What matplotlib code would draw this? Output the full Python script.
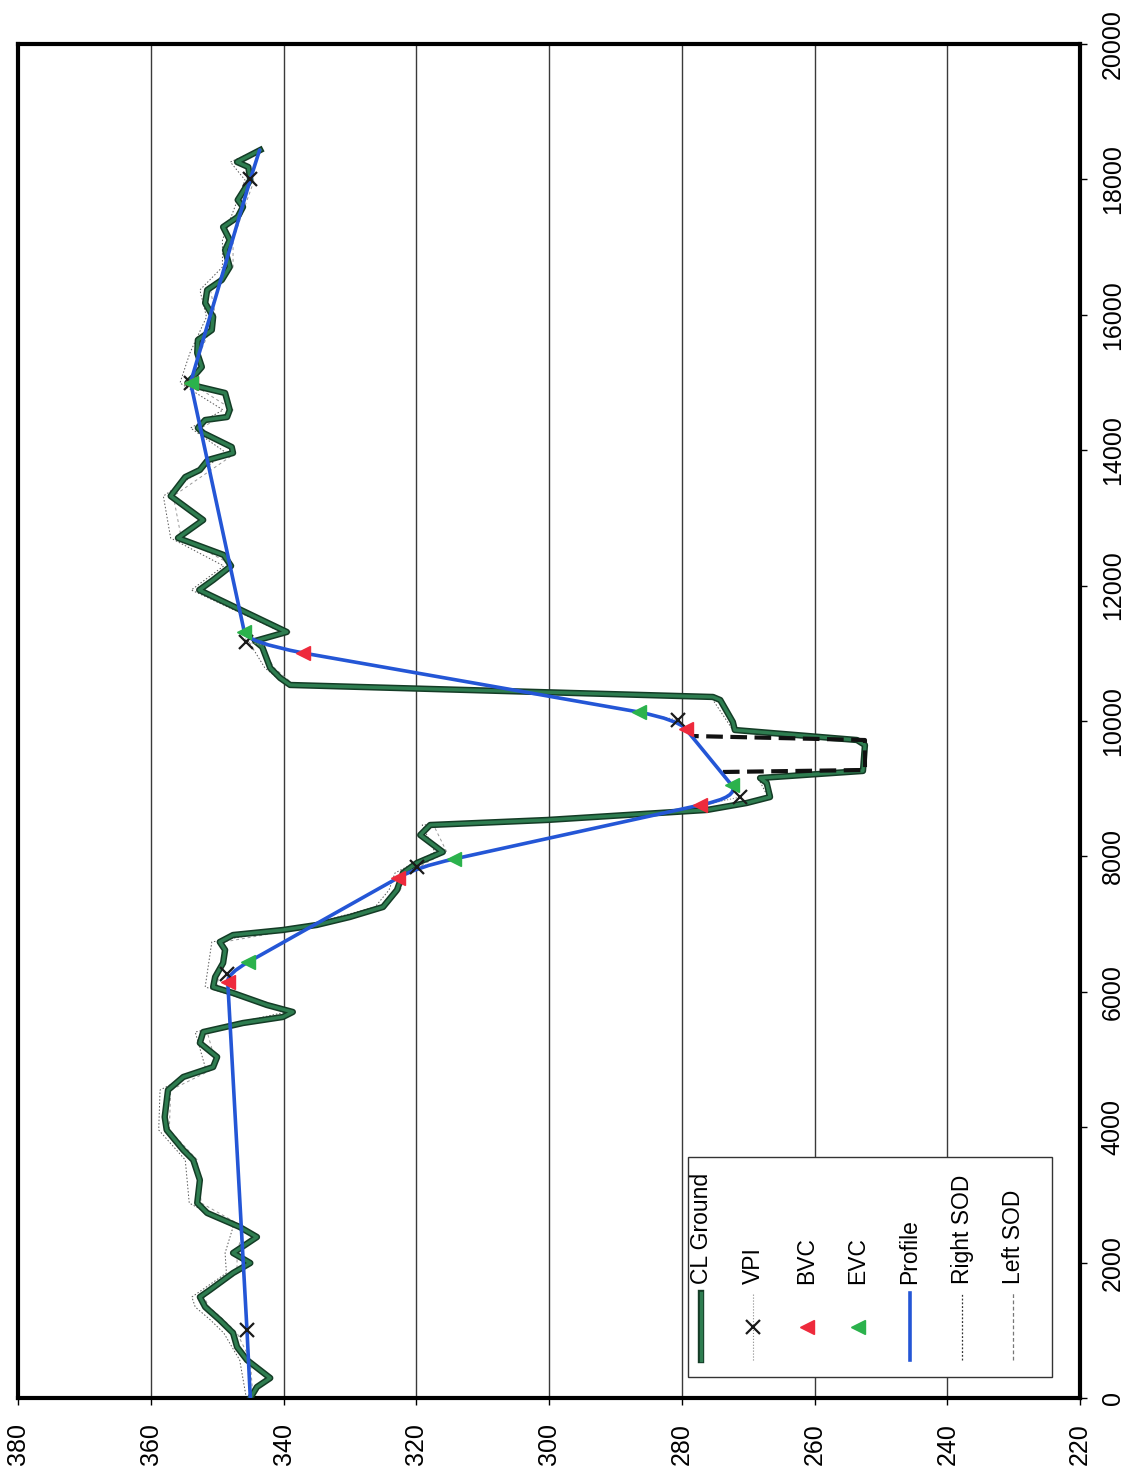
import numpy as np
import matplotlib
matplotlib.use('Agg')
import matplotlib.pyplot as plt
import matplotlib.patheffects as pe
from matplotlib.path import Path
from matplotlib.patches import PathPatch, Rectangle
from matplotlib.lines import Line2D

plt.rcParams['font.family'] = ['Liberation Sans', 'DejaVu Sans']

# ---- centre line ground (station, elevation)
ground_sta = [0, 163, 295, 561, 753, 960, 1152, 1344, 1492, 1595, 1846, 1994, 2142, 2378, 2526,
              2733, 2880, 3220, 3516, 3663, 3959, 4151, 4549, 4742, 4889, 5037, 5244, 5406, 5539,
              5628, 5702, 5805, 5982, 6071, 6219, 6425, 6618, 6736, 6839, 6913, 6987, 7105, 7253,
              7504, 7755, 7903, 8065, 8316, 8464, 8538, 8686, 8789, 8877, 9084, 9158, 9262, 9645,
              9719, 9867, 9985, 10310, 10355, 10532, 10635, 10783, 11093, 11182, 11315, 11935,
              12083, 12290, 12452, 12703, 12969, 13323, 13604, 13708, 13855, 13959, 14047, 14254,
              14328, 14446, 14490, 14594, 14845, 14934, 14993, 15081, 15229, 15436, 15628, 15775,
              15968, 16174, 16366, 16514, 16706, 16957, 17105, 17297, 17445, 17593, 17696, 17991,
              18183, 18257, 18434]
ground_elev = [345.0, 344.0, 342.0, 345.5, 347.0, 347.6, 349.6, 351.8, 352.6, 351.1, 347.6, 345.0,
               347.6, 344.0, 346.6, 351.5, 353.0, 352.6, 353.6, 355.1, 357.6, 357.9, 357.4, 355.1,
               350.6, 350.0, 352.6, 352.1, 346.1, 340.1, 338.6, 342.5, 347.6, 350.6, 350.3, 349.1,
               348.8, 349.6, 347.6, 340.1, 335.0, 330.0, 325.0, 322.9, 322.0, 319.9, 316.0, 319.4,
               317.9, 300.3, 276.2, 270.2, 266.7, 267.2, 268.2, 252.7, 252.4, 253.6, 272.0, 272.3,
               274.2, 275.3, 339.0, 340.5, 342.0, 343.2, 344.3, 339.5, 352.7, 350.6, 347.9, 349.0,
               355.9, 352.1, 357.0, 354.8, 352.6, 351.4, 347.6, 347.8, 352.1, 352.9, 351.8, 348.5,
               348.1, 348.8, 352.6, 354.5, 353.6, 352.3, 353.0, 352.9, 350.8, 350.6, 351.8, 351.5,
               349.3, 348.1, 348.8, 348.1, 349.1, 346.9, 346.1, 346.9, 345.0, 345.3, 347.0, 343.5]

# ---- sight offset ground lines
sod_sta = [0, 561, 960, 1152, 1344, 1492, 1846, 2142, 2526, 2880, 3516, 3959, 4549, 4889, 5406,
           5702, 6071, 6736, 6987, 7253, 7504, 7755, 8065, 8464, 8538, 8686, 8877, 9158, 9262,
           9645, 9719, 9867, 10355, 10532, 10783, 11182, 11315, 11935, 12290, 12703, 13323,
           13959, 14328, 14594, 14993, 15436, 15968, 16366, 16706, 17105, 17445, 17991, 18257,
           18434]
right_sod_elev = [345.6, 346.6, 349.0, 351.0, 353.3, 353.8, 348.6, 348.8, 347.6, 354.2, 354.8,
                  358.8, 358.6, 351.8, 353.3, 339.6, 351.8, 350.8, 336.2, 326.2, 324.1, 323.2,
                  317.2, 319.1, 300.6, 276.5, 267.0, 268.5, 253.0, 252.7, 253.9, 272.3, 275.6,
                  339.6, 342.8, 345.3, 340.3, 353.9, 349.0, 357.0, 358.1, 348.6, 354.0, 349.1,
                  355.6, 354.1, 351.6, 352.6, 349.2, 349.2, 347.9, 345.8, 348.0, 344.0]
left_sod_elev = [344.6, 345.0, 347.0, 349.0, 351.2, 352.0, 347.0, 347.0, 346.0, 352.4, 353.0,
                 357.2, 357.0, 350.0, 351.5, 338.0, 350.0, 349.0, 334.4, 324.6, 322.4, 321.4,
                 315.4, 317.4, 299.8, 275.8, 266.2, 267.8, 252.5, 252.2, 253.2, 271.6, 274.8,
                 338.4, 341.4, 343.8, 339.0, 352.2, 347.4, 355.4, 356.6, 347.2, 352.4, 347.6,
                 354.0, 352.6, 350.2, 351.0, 347.6, 347.6, 346.4, 344.4, 346.4, 343.2]

# ---- channel outline
channel_sta = [9247, 9276, 9719, 9778]
channel_elev = [273.8, 252.4, 252.4, 278.3]

# ---- vertical alignment
grade_ends_sta = [0, 18434]
grade_ends_elev = [345.0, 343.6]
vpi_sta = [1000, 6265, 7843, 8877, 10015, 11167, 15000, 18000]
vpi_elev = [345.5, 348.5, 319.9, 271.2, 280.5, 345.6, 354.0, 345.0]
nan = np.nan
bvc_sta = [nan, 6145, 7681, 8759, 9882, 11004, 15000, nan]
bvc_elev = [nan, 348.4, 322.8, 277.2, 279.4, 337.0, 354.0, nan]
evc_sta = [nan, 6440, 7962, 9055, 10133, 11315, 15000, nan]
evc_elev = [nan, 345.3, 314.3, 272.5, 286.5, 345.9, 354.0, nan]

elev_ticks = list(range(220, 381, 20))
sta_ticks = list(range(0, 20001, 2000))

W, H = 1131, 1475
fig = plt.figure(figsize=(W / 100, H / 100), dpi=100)
ax = fig.add_axes([18 / W, 77 / H, 1062 / W, 1354 / H])

# sheet is turned: elevation across, station up the page
ax.set_xlim(380, 220)
ax.set_ylim(0, 20000)
ax.set_xticks(elev_ticks)
ax.set_yticks(sta_ticks)
ax.yaxis.tick_right()
ax.grid(axis='x', color='#3a3a3a', lw=1.0)
ax.set_axisbelow(True)
for sp in ax.spines.values():
    sp.set_linewidth(3.0)
ax.tick_params(axis='x', direction='out', length=5, width=1, pad=13,
               labelsize=18, labelrotation=90)
ax.tick_params(axis='y', direction='out', length=5, width=1, pad=10,
               labelsize=18, labelrotation=90, right=True, left=False)
for lab in ax.get_yticklabels():
    lab.set_va('center')

ground_fx = [pe.Stroke(linewidth=4.6, foreground='#143c26'), pe.Normal()]

ax.plot(right_sod_elev, sod_sta, color='#555555', lw=0.7, ls=(0, (1.5, 2)), zorder=2)
ax.plot(left_sod_elev, sod_sta, color='#999999', lw=0.7, ls=(0, (3, 3)), zorder=2)
ax.plot(ground_elev, ground_sta, color='#2e7d50', lw=2.4, zorder=3,
        path_effects=ground_fx, solid_joinstyle='round')
ax.plot(channel_elev, channel_sta, color='#111111', lw=3.0, ls=(0, (4, 1.8)), zorder=3)

# profile: tangents plus parabolic curves (quadratic with the VPI as control point)
verts = [(grade_ends_elev[0], grade_ends_sta[0])]
codes = [Path.MOVETO]
for i in range(len(vpi_sta)):
    if np.isnan(bvc_sta[i]) or bvc_sta[i] == evc_sta[i]:
        verts.append((vpi_elev[i], vpi_sta[i]))
        codes.append(Path.LINETO)
    else:
        verts += [(bvc_elev[i], bvc_sta[i]), (vpi_elev[i], vpi_sta[i]), (evc_elev[i], evc_sta[i])]
        codes += [Path.LINETO, Path.CURVE3, Path.CURVE3]
verts.append((grade_ends_elev[1], grade_ends_sta[1]))
codes.append(Path.LINETO)
ax.add_patch(PathPatch(Path(verts, codes), fc='none', ec='#2456d6', lw=2.6, zorder=5,
                       capstyle='round', joinstyle='round'))

ax.plot(vpi_elev, vpi_sta, color='#888888', lw=0.8, ls=':', zorder=4)
ax.plot(vpi_elev, vpi_sta, ls='none', marker='x', ms=10, mew=1.6, color='#1a1a1a', zorder=6)
ax.plot(bvc_elev, bvc_sta, ls='none', marker='<', ms=10, color='#ee2a3c', zorder=7)
ax.plot(evc_elev, evc_sta, ls='none', marker='<', ms=10, color='#2bb24c', zorder=7)


# legend box, laid out on the turned sheet
def fx(px):
    return px / W


def fy(py):
    return 1 - py / H


fig.add_artist(Rectangle((fx(688), fy(1377)), (1052 - 688) / W, (1377 - 1157) / H,
                         transform=fig.transFigure, fc='white', ec='#333333', lw=1.0, zorder=10))
entries = [
    ('CL Ground', 701, dict(color='#2e7d50', lw=2.4, path_effects=ground_fx)),
    ('VPI', 753, dict(color='#888888', lw=0.8, ls=':')),
    ('BVC', 807, None),
    ('EVC', 858, None),
    ('Profile', 910, dict(color='#2456d6', lw=2.6)),
    ('Right SOD', 962, dict(color='#333333', lw=0.9, ls=(0, (1.5, 1.5)))),
    ('Left SOD', 1013, dict(color='#777777', lw=0.9, ls=(0, (3, 2)))),
]
for label, px, style in entries:
    if style is not None:
        fig.add_artist(Line2D([fx(px), fx(px)], [fy(1360), fy(1293)],
                              transform=fig.transFigure, zorder=11, **style))
    fig.text(fx(px), fy(1284), label, rotation=90, ha='center', va='bottom',
             fontsize=16.5, zorder=12)
fig.add_artist(Line2D([fx(753)], [fy(1327)], marker='x', ms=10, mew=1.6, color='#1a1a1a',
                      transform=fig.transFigure, zorder=12))
fig.add_artist(Line2D([fx(807)], [fy(1327)], marker='<', ms=10, color='#ee2a3c', ls='none',
                      transform=fig.transFigure, zorder=12))
fig.add_artist(Line2D([fx(858)], [fy(1327)], marker='<', ms=10, color='#2bb24c', ls='none',
                      transform=fig.transFigure, zorder=12))

fig.savefig('out.png', dpi=100)
